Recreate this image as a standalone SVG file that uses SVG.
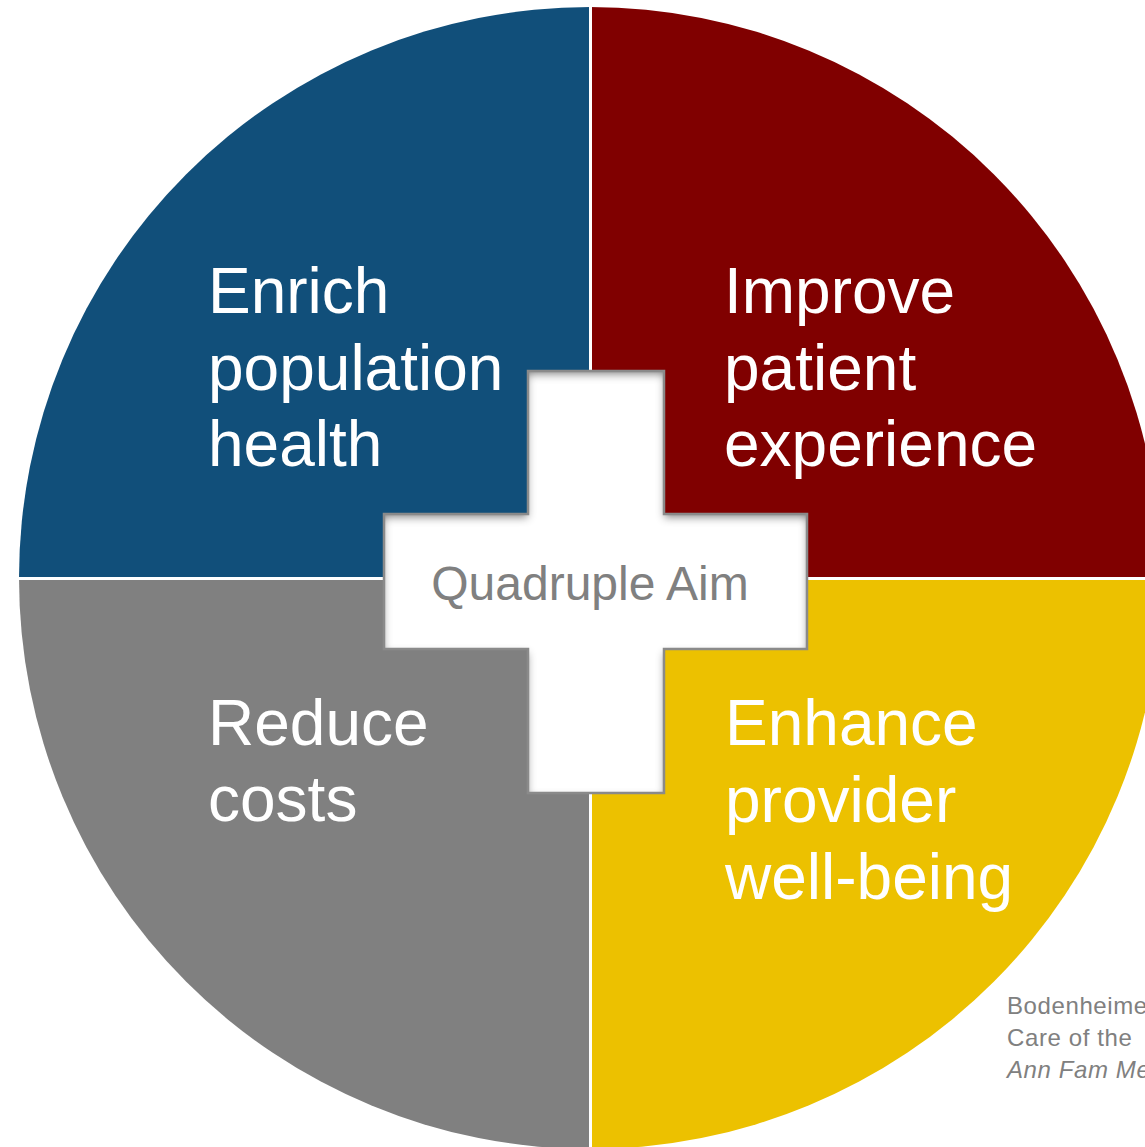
<svg xmlns="http://www.w3.org/2000/svg" width="1145" height="1147" viewBox="0 0 1145 1147">
  <defs>
    <style>
      .label { font-family: "Liberation Sans", Arial, sans-serif; font-size: 64px; fill: #ffffff; }
      .center-label { font-family: "Liberation Sans", Arial, sans-serif; font-size: 48px; fill: #808080; }
      .cite { font-family: "Liberation Sans", Arial, sans-serif; font-size: 24px; letter-spacing: 0.6px; fill: #808080; }
      .divider { stroke: #ffffff; stroke-width: 3; }
    </style>
    <!-- soft inner shadow along the upper edges of the cross -->
    <filter id="innerShadow" x="-10%" y="-10%" width="120%" height="120%">
      <feFlood flood-color="#000000" flood-opacity="0.8" result="flood"/>
      <feComposite in="flood" in2="SourceAlpha" operator="out" result="outside"/>
      <feOffset in="outside" dx="0" dy="4" result="shifted"/>
      <feGaussianBlur in="shifted" stdDeviation="4.5" result="blurred"/>
      <feComposite in="blurred" in2="SourceAlpha" operator="in" result="shadow"/>
      <feMerge>
        <feMergeNode in="SourceGraphic"/>
        <feMergeNode in="shadow"/>
      </feMerge>
    </filter>
  </defs>

  <rect width="1145" height="1147" fill="#ffffff"/>

  <!-- four quadrants of the circle -->
  <g id="quadrant-population">
    <path d="M590,578 L19,578 A571,571 0 0 1 590,7 Z" fill="#114F7A"/>
    <text class="label" x="208" y="313">Enrich</text>
    <text class="label" x="208" y="390">population</text>
    <text class="label" x="208" y="466">health</text>
  </g>
  <g id="quadrant-patient">
    <path d="M590,578 L590,7 A571,571 0 0 1 1161,578 Z" fill="#800000"/>
    <text class="label" x="724" y="313">Improve</text>
    <text class="label" x="724" y="390">patient</text>
    <text class="label" x="724" y="466">experience</text>
  </g>
  <g id="quadrant-costs">
    <path d="M590,578 L590,1149 A571,571 0 0 1 19,578 Z" fill="#808080"/>
    <text class="label" x="208" y="745">Reduce</text>
    <text class="label" x="208" y="821">costs</text>
  </g>
  <g id="quadrant-provider">
    <path d="M590,578 L1161,578 A571,571 0 0 1 590,1149 Z" fill="#ECC100"/>
    <text class="label" x="725" y="745">Enhance</text>
    <text class="label" x="725" y="822">provider</text>
    <text class="label" x="725" y="899">well-being</text>
  </g>

  <!-- white dividers between quadrants -->
  <g id="dividers">
    <line class="divider" x1="590.5" y1="0" x2="590.5" y2="1147"/>
    <line class="divider" x1="0" y1="578.5" x2="1145" y2="578.5"/>
  </g>

  <!-- central cross -->
  <g id="cross">
    <path d="M528,371 H664 V514 H807 V649 H664 V793 H528 V649 H384 V514 H528 Z" fill="#ffffff" filter="url(#innerShadow)"/>
    <path d="M528,371 H664 V514 H807 V649 H664 V793 H528 V649 H384 V514 H528 Z" fill="none" stroke="#8A8A8A" stroke-width="2.5"/>
    <text class="center-label" x="590" y="600" text-anchor="middle">Quadruple Aim</text>
  </g>

  <!-- citation -->
  <g id="citation">
    <text class="cite" x="1007" y="1014">Bodenheimer</text>
    <text class="cite" x="1007" y="1046">Care of the</text>
    <text class="cite" x="1007" y="1078" font-style="italic">Ann Fam Med</text>
  </g>
</svg>
